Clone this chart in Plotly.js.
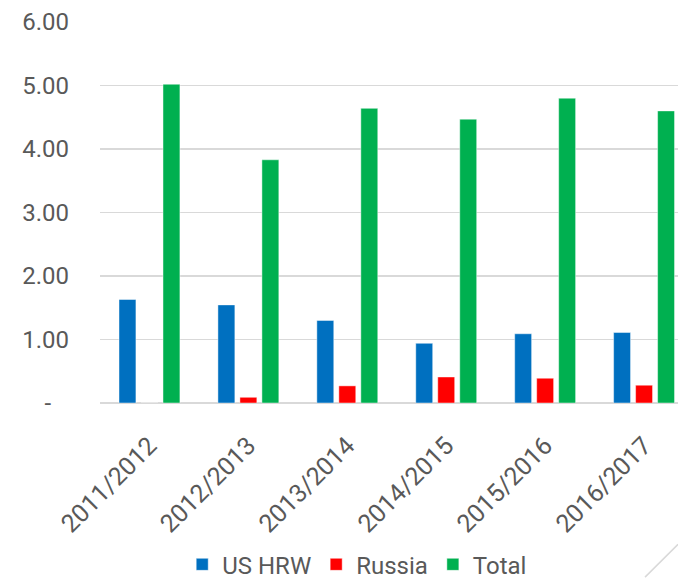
<!DOCTYPE html>
<html>
<head>
<meta charset="utf-8">
<script src="https://cdn.plot.ly/plotly-3.0.1.min.js"></script>
<style>
  html, body { margin: 0; padding: 0; background: #fff; }
  #chart { width: 678px; height: 581px; }
</style>
</head>
<body>
<div id="chart"></div>
<script>
const seasons = ['2011/2012', '2012/2013', '2013/2014', '2014/2015', '2015/2016', '2016/2017'];
const usHrw = [1.63, 1.545, 1.30, 0.94, 1.09, 1.11];
const russia = [0, 0.09, 0.27, 0.41, 0.39, 0.28];
const total = [5.02, 3.83, 4.64, 4.47, 4.80, 4.60];
const yTicks = [0, 1, 2, 3, 4, 5, 6];
const yTickText = ['-\u00a0\u00a0\u00a0', '1.00', '2.00', '3.00', '4.00', '5.00', '6.00'];

const FONT = 'Roboto, "Liberation Sans", sans-serif';
const GREY = '#595959';

const makeBar = (name, values, color) => ({
  type: 'bar',
  name,
  x: seasons,
  y: values,
  marker: { color, line: { width: 1, color: 'rgba(255,255,255,0.45)' } },
  hoverinfo: 'skip'
});

const traces = [
  makeBar('US HRW', usHrw, '#0070C0'),
  makeBar('Russia', russia, '#FF0000'),
  makeBar('Total', total, '#00B050')
];

const layout = {
  width: 678,
  height: 581,
  margin: { l: 99.5, r: 0, t: 22, b: 177.5 },
  paper_bgcolor: '#ffffff',
  plot_bgcolor: '#ffffff',
  font: { family: FONT, color: GREY, size: 24 },
  barmode: 'group',
  bargap: 0.333,
  bargroupgap: 0.23,
  xaxis: {
    type: 'category',
    range: [-0.5, 5.343],
    tickangle: -45,
    tickfont: { family: FONT, size: 25, color: GREY },
    ticklabelstandoff: 22,
    showgrid: false,
    showline: false,
    ticks: '',
    zeroline: false
  },
  yaxis: {
    range: [0, 6],
    tickvals: yTicks,
    ticktext: yTickText,
    tickfont: { family: FONT, size: 24, color: GREY },
    ticklabelstandoff: 30,
    showgrid: true,
    gridcolor: '#D9D9D9',
    gridwidth: 1.5,
    zeroline: true,
    zerolinecolor: '#D9D9D9',
    zerolinewidth: 2,
    showline: false,
    ticks: ''
  },
  showlegend: true,
  legend: {
    orientation: 'h',
    xref: 'paper',
    x: 0.445,
    xanchor: 'center',
    yref: 'container',
    y: 0.028,
    yanchor: 'middle',
    font: { family: FONT, size: 24, color: GREY },
    itemwidth: 30,
    traceorder: 'normal'
  },
  shapes: [{
    type: 'line', xref: 'paper', yref: 'paper',
    x0: 0.943, y0: -0.457, x1: 1.0, y1: -0.371,
    line: { color: '#D9D9D9', width: 1.5 }
  }]
};

Plotly.newPlot('chart', traces, layout, { displayModeBar: false, staticPlot: true });
</script>
</body>
</html>
